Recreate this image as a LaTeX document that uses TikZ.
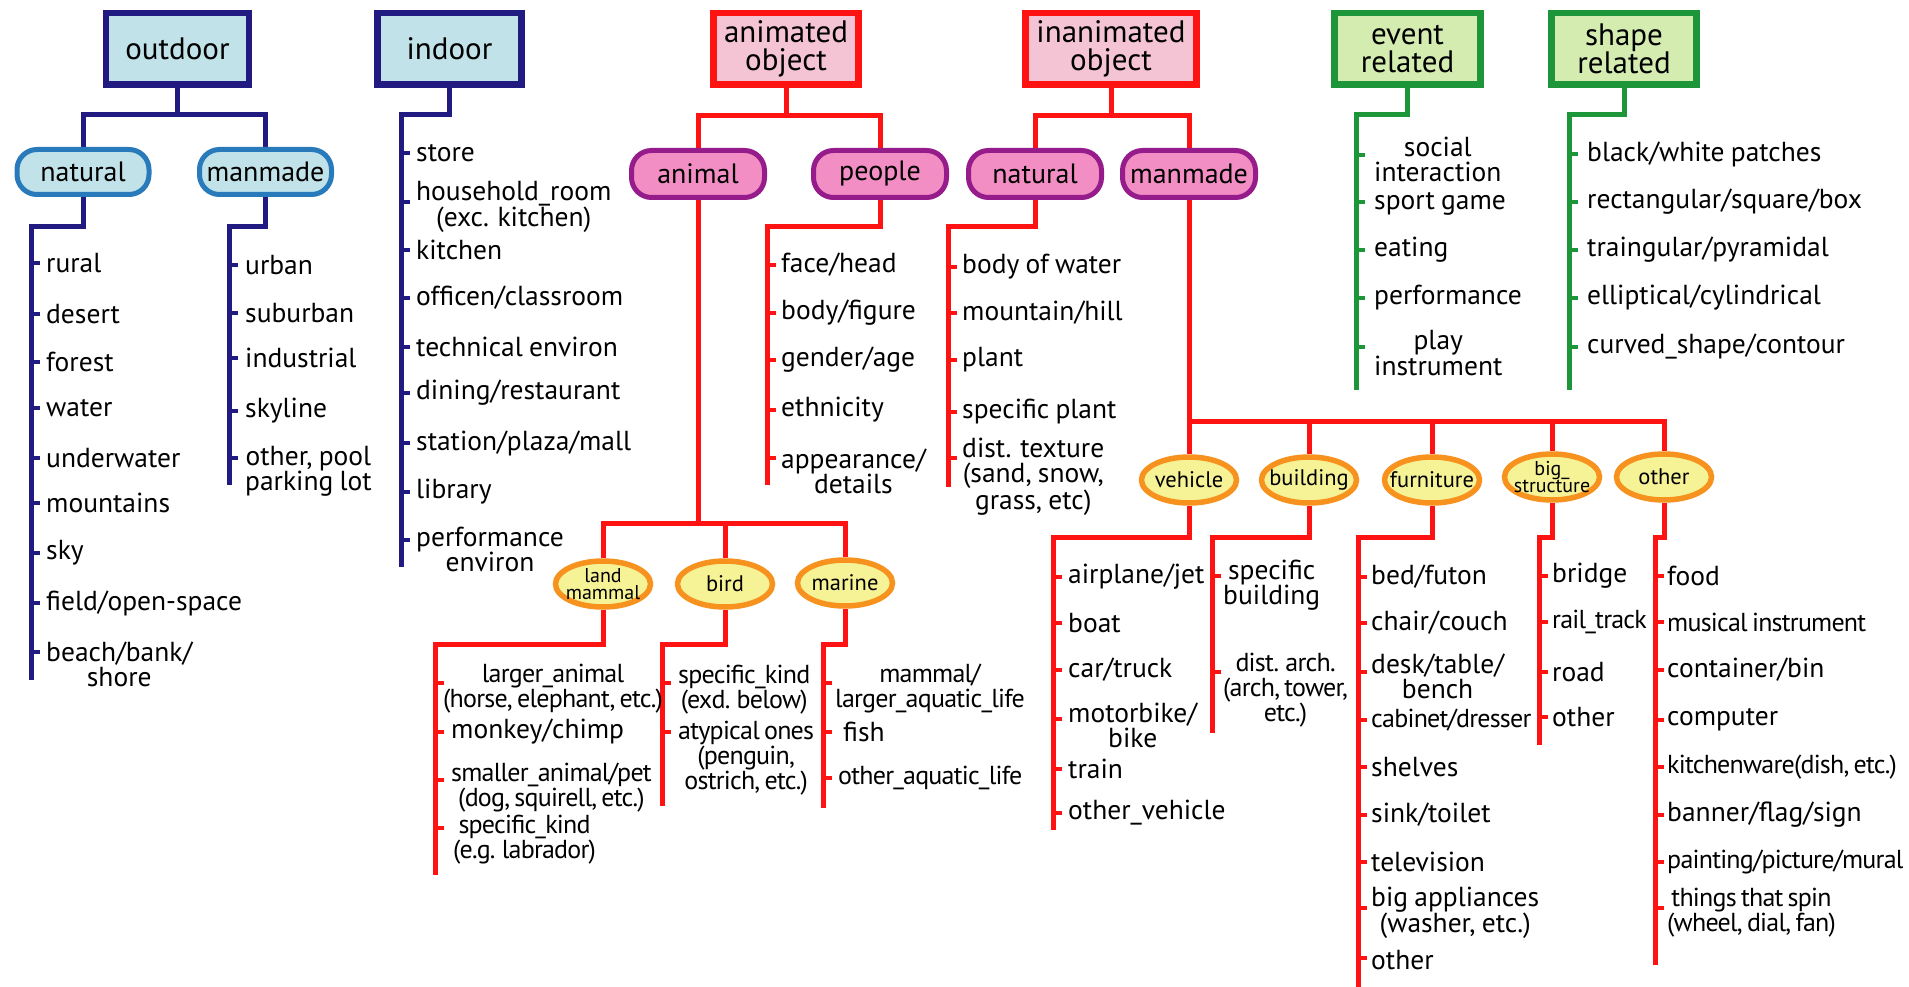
\documentclass[tikz,border=0pt]{standalone}
\usepackage{fontspec}
\setmainfont{PT Sans}[WordSpace=0.85]
\newfontfamily\tfam{PT Sans}[LetterSpace=-3,WordSpace=0.7]
\newcommand\tf{\tfam\fontsize{26}{24}\selectfont}
\usetikzlibrary{shapes.geometric,backgrounds}
\definecolor{navy}{RGB}{33,26,128}
\definecolor{lblue}{RGB}{192,226,232}
\definecolor{pblue}{RGB}{40,122,186}
\definecolor{rred}{RGB}{255,18,18}
\definecolor{lpink}{RGB}{244,195,212}
\definecolor{purp}{RGB}{150,28,140}
\definecolor{mpink}{RGB}{242,142,196}
\definecolor{orng}{RGB}{247,146,30}
\definecolor{lyel}{RGB}{246,242,150}
\definecolor{grn}{RGB}{28,150,56}
\definecolor{lgrn}{RGB}{212,236,176}
\tikzset{
 hdr/.style={draw, line width=6.5pt, minimum height=71.5pt, inner sep=0pt, align=center, font=\fontsize{31}{28.5}\selectfont},
 hblue/.style={hdr, draw=navy, fill=lblue},
 hred/.style={hdr, draw=rred, fill=lpink},
 hgrn/.style={hdr, draw=grn, fill=lgrn},
 pill/.style={draw, line width=5pt, rounded corners=20pt, inner sep=0pt, font=\fontsize{28}{28}\selectfont},
 pillb/.style={pill, draw=pblue, fill=lblue, minimum width=132pt, minimum height=45pt},
 pillp/.style={pill, draw=purp, fill=mpink, minimum width=133pt, minimum height=47pt},
 ell/.style={ellipse, draw=orng, fill=lyel, line width=5.5pt, minimum width=95pt, minimum height=46pt, inner xsep=-20pt, inner ysep=-15pt, align=center, font=\fontsize{22.5}{22}\selectfont},
 ells/.style={ell, font=\fontsize{20}{17.5}\selectfont},
 itm/.style={inner sep=0pt, align=center, font=\fontsize{27.5}{25}\selectfont, anchor=west},
 nvl/.style={draw=navy, line width=5pt},
 rdl/.style={draw=rred, line width=5pt},
 gnl/.style={draw=grn, line width=5pt},
 nvtk/.style={draw=navy, line width=4pt},
 rdtk/.style={draw=rred, line width=4pt},
 gntk/.style={draw=grn, line width=4pt},
}
\newcommand\tkitem[7]{\coordinate (#2t) at (#3,#4); \draw[#1] (#2t) -- ++(9,0); \node[itm] (#2) at (#5,#6) {#7};}
\begin{document}
\begin{tikzpicture}[x=1pt,y=-1pt]
\useasboundingbox (0,0) rectangle (1909,987);
% headers
\node[hblue, minimum width=143pt] (outdoor) at (177.5,49) {outdoor};
\node[hblue, minimum width=144pt] (indoor) at (449.5,49) {indoor};
\node[hred, minimum width=145pt] (anim) at (786,49) {animated\\object};
\node[hred, minimum width=171pt] (inanim) at (1111,49) {inanimated\\object};
\node[hgrn, minimum width=146pt] (event) at (1407.5,49) {event\\related};
\node[hgrn, minimum width=145pt] (shape) at (1624,49) {shape\\related};
% pills
\node[pillb] (onat) at (83,172) {natural};
\node[pillb] (oman) at (265.5,172) {manmade};
\node[pillp] (animal) at (698,174) {animal};
\node[pillp] (people) at (880,174) {people};
\node[pillp] (inat) at (1035,174) {natural};
\node[pillp] (iman) at (1189,174) {manmade};
% ellipses
\node[ells] (lmam) at (603,584) {land\\mammal};
\node[ell] (bird) at (725,584) {bird};
\node[ell] (marine) at (845,583) {marine};
\node[ell] (vehicle) at (1189,480) {vehicle};
\node[ell] (building) at (1309,480) {building};
\node[ell] (furniture) at (1432,480) {furniture};
\node[ells] (bigs) at (1552,477) {big\_\\structure};
\node[ell] (other) at (1664,477) {other};
% connectors
\begin{pgfonlayer}{background}
\fill[white] (0,0) rectangle (1909,987);
\coordinate (oj) at (177.5,115);
\draw[nvl] (outdoor.south) -- (oj);
\draw[nvl] (onat.north) |- (oj) -| (oman.north);
\coordinate (onj) at (31,227); \coordinate (one) at (31,680);
\draw[nvl] (onat.south) |- (onj) -- (one);
\coordinate (omj) at (229,227); \coordinate (ome) at (229,485);
\draw[nvl] (oman.south) |- (omj) -- (ome);
\coordinate (inj) at (401,115); \coordinate (ine) at (401,567);
\draw[nvl] (indoor.south) |- (inj) -- (ine);
\coordinate (aj) at (786,116);
\draw[rdl] (anim.south) -- (aj);
\draw[rdl] (animal.north) |- (aj) -| (people.north);
\coordinate (iaj) at (1111,116);
\draw[rdl] (inanim.south) -- (iaj);
\draw[rdl] (inat.north) |- (iaj) -| (iman.north);
\coordinate (anj) at (698,523);
\draw[rdl] (animal.south) -- (anj);
\draw[rdl] (lmam.north) |- (anj) -| (marine.north);
\draw[rdl] (bird.north) -- (bird.north |- anj);
\coordinate (lmj) at (435,644); \coordinate (lme) at (435,875);
\draw[rdl] (lmam.south) |- (lmj) -- (lme);
\coordinate (bdj) at (662,644); \coordinate (bde) at (662,806);
\draw[rdl] (bird.south) |- (bdj) -- (bde);
\coordinate (mrj) at (823,644); \coordinate (mre) at (823,808);
\draw[rdl] (marine.south) |- (mrj) -- (mre);
\coordinate (pej) at (767,227); \coordinate (pee) at (767,485);
\draw[rdl] (people.south) |- (pej) -- (pee);
\coordinate (naj) at (948,227); \coordinate (nae) at (948,487);
\draw[rdl] (inat.south) |- (naj) -- (nae);
\coordinate (imj) at (1189,421);
\draw[rdl] (iman.south) -- (vehicle.north);
\draw[rdl] (imj) -| (other.north);
\draw[rdl] (building.north) -- (building.north |- imj);
\draw[rdl] (furniture.north) -- (furniture.north |- imj);
\draw[rdl] (bigs.north) -- (bigs.north |- imj);
\coordinate (vej) at (1053,537); \coordinate (vee) at (1053,830);
\draw[rdl] (vehicle.south) |- (vej) -- (vee);
\coordinate (buj) at (1212,537); \coordinate (bue) at (1212,733);
\draw[rdl] (building.south) |- (buj) -- (bue);
\coordinate (fuj) at (1358,537); \coordinate (fue) at (1358,987);
\draw[rdl] (furniture.south) |- (fuj) -- (fue);
\coordinate (bsj) at (1539,537); \coordinate (bse) at (1539,745);
\draw[rdl] (bigs.south) |- (bsj) -- (bse);
\coordinate (otj) at (1655,537); \coordinate (ote) at (1655,965);
\draw[rdl] (other.south) |- (otj) -- (ote);
\coordinate (evj) at (1356,115); \coordinate (eve) at (1356,390);
\draw[gnl] (event.south) |- (evj) -- (eve);
\coordinate (shj) at (1569,115); \coordinate (she) at (1569,390);
\draw[gnl] (shape.south) |- (shj) -- (she);
\end{pgfonlayer}
% outdoor natural
\tkitem{nvtk}{on1}{31}{263}{46}{263}{rural}
\tkitem{nvtk}{on2}{31}{314}{46}{314}{desert}
\tkitem{nvtk}{on3}{31}{362}{46}{362}{forest}
\tkitem{nvtk}{on4}{31}{408}{46}{408}{water}
\tkitem{nvtk}{on5}{31}{458}{46}{458}{underwater}
\tkitem{nvtk}{on6}{31}{503}{46}{503}{mountains}
\tkitem{nvtk}{on7}{31}{553}{46}{553}{sky}
\tkitem{nvtk}{on8}{31}{603}{46}{603}{field/open-space}
\tkitem{nvtk}{on9}{31}{652}{46}{664}{beach/bank/\\shore}
% outdoor manmade
\tkitem{nvtk}{om1}{229}{265}{245}{265}{urban}
\tkitem{nvtk}{om2}{229}{313}{245}{313}{suburban}
\tkitem{nvtk}{om3}{229}{358}{245}{358}{industrial}
\tkitem{nvtk}{om4}{229}{411}{245}{411}{skyline}
\tkitem{nvtk}{om5}{229}{458}{245}{471}{other, pool\\parking lot}
% indoor
\tkitem{nvtk}{in1}{401}{153}{416}{153}{store}
\tkitem{nvtk}{in2}{401}{202}{416}{207}{household\_room\\(exc. kitchen)}
\tkitem{nvtk}{in3}{401}{250}{416}{250}{kitchen}
\tkitem{nvtk}{in4}{401}{298}{416}{298}{officen/classroom}
\tkitem{nvtk}{in5}{401}{347}{416}{347}{technical environ}
\tkitem{nvtk}{in6}{401}{393}{416}{393}{dining/restaurant}
\tkitem{nvtk}{in7}{401}{443}{416}{443}{station/plaza/mall}
\tkitem{nvtk}{in8}{401}{492}{416}{492}{library}
\tkitem{nvtk}{in9}{401}{540}{416}{549}{performance\\environ}
% people
\tkitem{rdtk}{pe1}{767}{265}{781}{265}{face/head}
\tkitem{rdtk}{pe2}{767}{313}{781}{313}{body/figure}
\tkitem{rdtk}{pe3}{767}{360}{781}{360}{gender/age}
\tkitem{rdtk}{pe4}{767}{410}{781}{410}{ethnicity}
\tkitem{rdtk}{pe5}{767}{458}{781}{471}{appearance/\\details}
% natural inanimate
\tkitem{rdtk}{na5}{948}{458}{962}{477}{dist. texture\\(sand, snow,\\grass, etc)}
\tkitem{rdtk}{na1}{948}{267}{962}{267}{body of water}
\tkitem{rdtk}{na2}{948}{313}{962}{313}{mountain/hill}
\tkitem{rdtk}{na3}{948}{360}{962}{360}{plant}
\tkitem{rdtk}{na4}{948}{412}{962}{412}{specific plant}
% land mammal
\tkitem{rdtk}{lm1}{435}{683}{443}{689}{\tf larger\_animal\\\tf (horse, elephant, etc.)}
\tkitem{rdtk}{lm2}{435}{732}{451}{732}{monkey/chimp}
\tkitem{rdtk}{lm3}{435}{780}{451}{788}{\tf smaller\_animal/pet\\\tf (dog, squirell, etc.)}
\tkitem{rdtk}{lm4}{435}{828}{453}{840}{\tf specific\_kind\\\tf (e.g. labrador)}
% bird
\tkitem{rdtk}{bd1}{662}{683}{678}{690}{\tf specific\_kind\\\tf (exd. below)}
\tkitem{rdtk}{bd2}{662}{732}{678}{758}{\tf atypical ones\\\tf (penguin,\\\tf ostrich, etc.)}
% marine
\tkitem{rdtk}{mr1}{823}{683}{835}{688}{\tf mammal/\\\tf larger\_aquatic\_life}
\tkitem{rdtk}{mr2}{823}{732}{843}{732}{fish}
\tkitem{rdtk}{mr3}{823}{778}{838}{778}{\tf other\_aquatic\_life}
% vehicle
\tkitem{rdtk}{ve1}{1053}{577}{1068}{577}{airplane/jet}
\tkitem{rdtk}{ve2}{1053}{623}{1068}{623}{boat}
\tkitem{rdtk}{ve3}{1053}{670}{1068}{670}{car/truck}
\tkitem{rdtk}{ve4}{1053}{719}{1068}{725}{motorbike/\\bike}
\tkitem{rdtk}{ve5}{1053}{769}{1068}{769}{train}
\tkitem{rdtk}{ve6}{1053}{813}{1068}{813}{other\_vehicle}
% building
\tkitem{rdtk}{bu1}{1212}{576}{1223}{585}{specific\\building}
\tkitem{rdtk}{bu2}{1212}{672}{1223}{690}{\tf dist. arch.\\\tf (arch, tower,\\\tf etc.)}
% furniture
\tkitem{rdtk}{fu1}{1358}{577}{1371}{577}{bed/futon}
\tkitem{rdtk}{fu2}{1358}{623}{1371}{623}{chair/couch}
\tkitem{rdtk}{fu3}{1358}{672}{1371}{676}{desk/table/\\bench}
\tkitem{rdtk}{fu4}{1358}{720}{1371}{720}{\tf cabinet/dresser}
\tkitem{rdtk}{fu5}{1358}{767}{1371}{767}{shelves}
\tkitem{rdtk}{fu6}{1358}{815}{1371}{815}{sink/toilet}
\tkitem{rdtk}{fu7}{1358}{862}{1371}{862}{television}
\tkitem{rdtk}{fu8}{1358}{908}{1371}{913}{big appliances\\(washer, etc.)}
\tkitem{rdtk}{fu9}{1358}{958}{1371}{960}{other}
% big structure
\tkitem{rdtk}{bs1}{1539}{576}{1552}{576}{bridge}
\tkitem{rdtk}{bs2}{1539}{622}{1552}{622}{\tf rail\_track}
\tkitem{rdtk}{bs3}{1539}{672}{1552}{672}{road}
\tkitem{rdtk}{bs4}{1539}{717}{1552}{717}{other}
% other
\tkitem{rdtk}{ot1}{1655}{576}{1667}{576}{food}
\tkitem{rdtk}{ot2}{1655}{622}{1667}{622}{\tf musical instrument}
\tkitem{rdtk}{ot3}{1655}{670}{1667}{670}{container/bin}
\tkitem{rdtk}{ot4}{1655}{720}{1667}{720}{computer}
\tkitem{rdtk}{ot5}{1655}{767}{1667}{767}{\tf kitchenware(dish, etc.)}
\tkitem{rdtk}{ot6}{1655}{815}{1667}{815}{banner/flag/sign}
\tkitem{rdtk}{ot7}{1655}{862}{1667}{862}{\tf painting/picture/mural}
\tkitem{rdtk}{ot8}{1655}{908}{1667}{913}{\tf things that spin\\\tf (wheel, dial, fan)}
% event
\tkitem{gntk}{ev1}{1356}{155}{1374}{159}{social\\interaction}
\tkitem{gntk}{ev2}{1356}{202}{1374}{204}{sport game}
\tkitem{gntk}{ev3}{1356}{250}{1374}{250}{eating}
\tkitem{gntk}{ev4}{1356}{298}{1374}{298}{performance}
\tkitem{gntk}{ev5}{1356}{347}{1374}{353}{play\\instrument}
% shape
\tkitem{gntk}{sh1}{1569}{154}{1587}{154}{black/white patches}
\tkitem{gntk}{sh2}{1569}{202}{1587}{202}{rectangular/square/box}
\tkitem{gntk}{sh3}{1569}{250}{1587}{250}{traingular/pyramidal}
\tkitem{gntk}{sh4}{1569}{298}{1587}{298}{elliptical/cylindrical}
\tkitem{gntk}{sh5}{1569}{347}{1587}{347}{curved\_shape/contour}
\end{tikzpicture}
\end{document}
